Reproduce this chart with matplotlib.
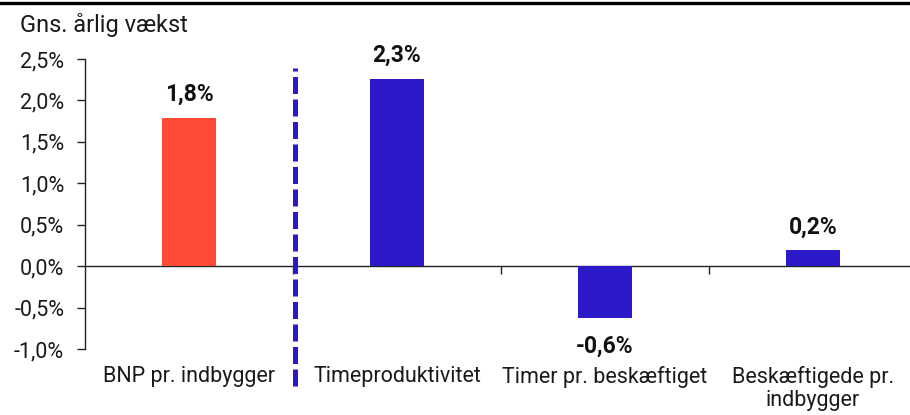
import matplotlib
matplotlib.use("Agg")
import matplotlib.pyplot as plt
from matplotlib.lines import Line2D
from matplotlib.ticker import FuncFormatter

categories = ["BNP pr. indbygger", "Timeproduktivitet", "Timer pr. beskæftiget", "Beskæftigede pr.\nindbygger"]
values = [1.79, 2.26, -0.62, 0.19]
labels = ["1,8%", "2,3%", "-0,6%", "0,2%"]
colors = ["#FF4A36", "#2B19C8", "#2B19C8", "#2B19C8"]
yticks = [-1.0, -0.5, 0.0, 0.5, 1.0, 1.5, 2.0, 2.5]
ylabel = "Gns. årlig vækst"

plt.rcParams['font.family'] = ['Roboto', 'DejaVu Sans']
FS = 15.5

fig = plt.figure(figsize=(9.1, 4.15), dpi=100)
W, H = 910, 415
ax = fig.add_axes([85 / W, 1 - 349 / H, 832 / W, 290 / H])

x = list(range(len(categories)))
ax.bar(x, values, width=0.255, color=colors, zorder=3)
ax.set_xlim(-0.5, 3.5)
ax.set_ylim(-1.0, 2.5)

ax.spines['top'].set_visible(False)
ax.spines['right'].set_visible(False)
ax.spines['bottom'].set_position(('data', 0))
for s in ('left', 'bottom'):
    ax.spines[s].set_linewidth(1.0)
    ax.spines[s].set_color('#222222')

ax.set_yticks(yticks)
ax.yaxis.set_major_formatter(FuncFormatter(lambda v, p: f"{v:.1f}%".replace('.', ',')))
ax.tick_params(axis='y', direction='out', length=6, width=1, color='#222222', labelcolor='#1a1a1a', labelsize=FS, pad=9)
ax.set_xticks([i + 0.5 for i in x])
ax.set_xticklabels([])
ax.tick_params(axis='x', direction='out', length=6, width=1, color='#222222')

for i, (v, lab) in enumerate(zip(values, labels)):
    off = 17 if v >= 0 else -21
    ax.annotate(lab, (i, v), xytext=(0, off), textcoords='offset points', ha='center', va='center',
                fontweight='bold', fontsize=FS + 1, color='#111111')

for i, c in enumerate(categories):
    ax.text(i, -0.06, c, transform=ax.get_xaxis_transform(), ha='center', va='top',
            fontsize=FS, color='#1a1a1a', linespacing=1.1)

ax.plot([0.51, 0.51], [-1.45, 2.39], color='#2B19C8', lw=3.6, dashes=(3.4, 1.1),
        solid_capstyle='butt', dash_capstyle='butt', clip_on=False, zorder=4)

fig.add_artist(Line2D([0, 1], [1 - 3 / H, 1 - 3 / H], color='black', lw=2.4, transform=fig.transFigure))
fig.text(20 / W, 1 - 25 / H, ylabel, ha='left', va='center', fontsize=17, color='#1a1a1a')

fig.savefig("out.png", dpi=100)
